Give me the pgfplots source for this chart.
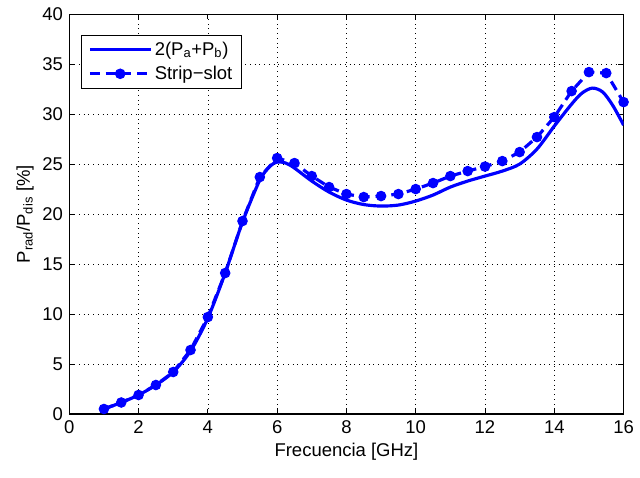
\documentclass[border=0pt]{standalone}
\usepackage{fontspec}
\setmainfont{Liberation Sans}
\usepackage{pgfplots}
\pgfplotsset{compat=1.18}

\begin{document}
\fontsize{14}{16.5}\selectfont
\begin{tikzpicture}
\begin{axis}[
  scale only axis,
  width=420pt, height=303pt,
  xmin=0, xmax=16, ymin=0, ymax=40,
  xtick={0,2,...,16}, ytick={0,5,...,40},
  tick align=inside, major tick length=4pt,
  tick style={black, line width=0.6pt},
  axis line style={black, line width=0.8pt},
  grid=major,
  major grid style={black, line width=0.5pt, dash pattern=on 0.6pt off 3pt},
  /pgf/number format/assume math mode=true,
  tick label style={font=\fontsize{14}{16.5}\selectfont},
  label style={font=\fontsize{14}{16.5}\selectfont},
  xlabel={Frecuencia [GHz]},
  ylabel={P\textsubscript{rad}/P\textsubscript{dis} [\%]},
  xlabel style={yshift=2pt},
  ylabel style={yshift=-3pt},
  legend cell align=left,
  legend style={at={(0.0214,0.949)}, anchor=north west, draw=black,
    line width=0.8pt, font=\fontsize{14}{16.5}\selectfont,
    inner xsep=5pt, inner ysep=3pt, row sep=2pt},
  legend image code/.code={
    \draw[mark repeat=2, mark phase=2, #1] plot coordinates {(0pt,0pt) (23pt,0pt) (46pt,0pt)};},
]
\addplot[blue, line width=2.4pt, smooth, tension=0.5, no marks] coordinates {
  (1,0.5)(1.5,1.15)(2,1.9)(2.5,2.9)(3,4.2)(3.5,6.3)(4,9.6)(4.5,14.1)
  (5,19.2)(5.5,23.4)(5.8,24.8)(6,25.2)(6.25,25.1)(6.5,24.6)(7,23.3)
  (7.5,22.2)(8,21.4)(8.5,20.95)(9,20.8)(9.5,20.9)(10,21.3)(10.5,21.9)
  (11,22.7)(11.5,23.3)(12,23.8)(12.5,24.3)(13,25.0)(13.5,26.5)(14,28.8)
  (14.5,31.0)(14.8,32.1)(15.1,32.6)(15.4,32.2)(15.7,30.8)(16,28.9)};
\addlegendentry{2(P\textsubscript{a}+P\textsubscript{b})}
\addplot[blue, line width=2.4pt, dash pattern=on 7.5pt off 4.5pt, mark=*,
  mark size=3.6pt, mark options={solid, line width=0.8pt, fill=blue}] coordinates {
  (1,0.5)(1.5,1.15)(2,1.9)(2.5,2.9)(3,4.2)(3.5,6.4)(4,9.7)(4.5,14.1)
  (5,19.3)(5.5,23.7)(6,25.6)(6.5,25.1)(7,23.8)(7.5,22.7)(8,22.0)
  (8.5,21.7)(9,21.8)(9.5,22.0)(10,22.5)(10.5,23.1)(11,23.8)(11.5,24.3)
  (12,24.75)(12.5,25.3)(13,26.2)(13.5,27.7)(14,29.7)(14.5,32.3)
  (15,34.2)(15.5,34.1)(16,31.2)};
\addlegendentry{Strip−slot}
\end{axis}
\path[use as bounding box] (-52.5pt,-48pt) rectangle (427.5pt,313.7pt);
\end{tikzpicture}
\end{document}
